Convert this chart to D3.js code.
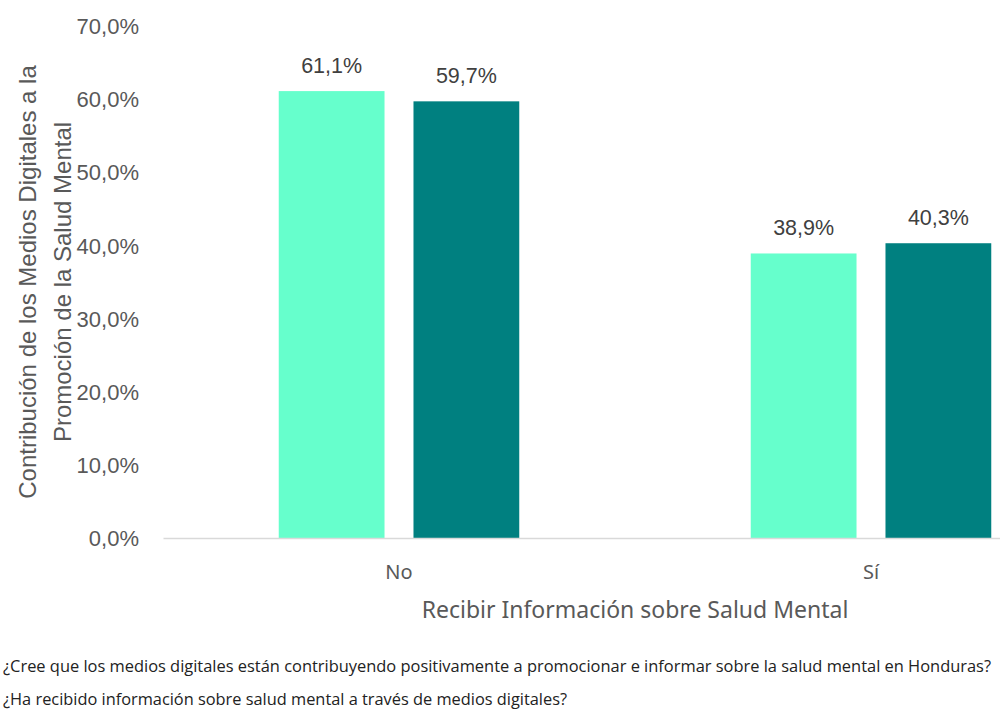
<!DOCTYPE html>
<html>
<head>
<meta charset="utf-8">
<script src="https://cdn.jsdelivr.net/npm/d3@7"></script>
<style>
  html, body { margin: 0; padding: 0; background: #fff; }
  svg { display: block; }
</style>
</head>
<body>
<svg id="chart" width="1000" height="713"></svg>
<script>
// Categories on the x axis and the two answer series
const categories = ["No", "Sí"];
const seriesNames = ["Contribuyen", "Ha recibido"];
const seriesLight = [61.1, 38.9];
const seriesDark = [59.7, 40.3];
const yTicks = [0, 10, 20, 30, 40, 50, 60, 70];
const colors = ["#66FFCC", "#008080"];

const yTitleLines = ["Contribución de los Medios Digitales a la", "Promoción de la Salud Mental"];
const xTitle = "Recibir Información sobre Salud Mental";
const notes = [
  "¿Cree que los medios digitales están contribuyendo positivamente a promocionar e informar sobre la salud mental en Honduras?",
  "¿Ha recibido información sobre salud mental a través de medios digitales?"
];

const svg = d3.select("#chart");
const margin = { left: 163, top: 26, bottom: 538, right: 1107 };

const fmt = v => d3.format(".1f")(v).replace(".", ",") + "%";

const x0 = d3.scaleBand().domain(categories).range([margin.left, margin.right]).paddingInner(0).paddingOuter(0);
const x1 = d3.scaleBand().domain(seriesNames).range([0, x0.bandwidth()]).paddingInner(0.215).paddingOuter(0.859);
const y = d3.scaleLinear().domain([0, 70]).range([margin.bottom, margin.top]);

const rows = categories.map((c, i) => ({ cat: c, values: [seriesLight[i], seriesDark[i]] }));

// bars
const groups = svg.selectAll("g.grp").data(rows).join("g")
  .attr("class", "grp")
  .attr("transform", d => `translate(${x0(d.cat)},0)`);

groups.selectAll("rect").data(d => d.values.map((v, j) => ({ v, j }))).join("rect")
  .attr("x", d => x1(seriesNames[d.j]))
  .attr("width", x1.bandwidth())
  .attr("y", d => y(d.v))
  .attr("height", d => y(0) - y(d.v))
  .attr("fill", d => colors[d.j]);

groups.selectAll("text.lbl").data(d => d.values.map((v, j) => ({ v, j }))).join("text")
  .attr("class", "lbl")
  .attr("x", d => x1(seriesNames[d.j]) + x1.bandwidth() / 2)
  .attr("y", d => y(d.v) - 18)
  .attr("text-anchor", "middle")
  .attr("font-family", "Liberation Sans, Arial, sans-serif")
  .attr("font-size", 21.5)
  .attr("fill", "#404040")
  .text(d => fmt(d.v));

// y axis labels
const yAxis = d3.axisLeft(y).tickValues(yTicks).tickSize(0).tickPadding(0).tickFormat(fmt);
const yg = svg.append("g").attr("transform", "translate(139,0)").call(yAxis);
yg.select(".domain").remove();
yg.selectAll("text")
  .attr("font-family", "Liberation Sans, Arial, sans-serif")
  .attr("font-size", 22)
  .attr("fill", "#595959")
  .attr("dy", "0.35em");

// x axis baseline and category labels
const xAxis = d3.axisBottom(x0).tickSize(0).tickPadding(24);
const xg = svg.append("g").attr("transform", `translate(0,${y(0)})`).call(xAxis);
xg.select(".domain").attr("stroke", "#d9d9d9").attr("stroke-width", 1.5);
xg.selectAll("text")
  .attr("font-family", "Noto Sans, Open Sans, sans-serif")
  .attr("font-size", 20)
  .attr("fill", "#595959")
  .attr("dy", "0.35em")
  .attr("y", 34);

// axis titles
const yMid = (margin.top + margin.bottom) / 2;
svg.append("g").selectAll("text").data(yTitleLines).join("text")
  .attr("transform", (d, i) => `translate(${28 + i * 35},${yMid}) rotate(-90)`)
  .attr("text-anchor", "middle")
  .attr("dy", "0.35em")
  .attr("font-family", "Liberation Sans, Arial, sans-serif")
  .attr("font-size", 24)
  .attr("fill", "#595959")
  .text(d => d);

svg.append("text")
  .attr("x", 635).attr("y", 610)
  .attr("text-anchor", "middle")
  .attr("dy", "0.35em")
  .attr("font-family", "Noto Sans, Open Sans, sans-serif")
  .attr("font-size", 23)
  .attr("fill", "#595959")
  .text(xTitle);

// question notes below the chart
svg.append("g").selectAll("text").data(notes).join("text")
  .attr("x", 3)
  .attr("y", (d, i) => 672 + i * 33)
  .attr("font-family", "Open Sans, sans-serif")
  .attr("font-size", 16)
  .attr("fill", "#222")
  .attr("textLength", (d, i) => i === 0 ? 988 : 564)
  .attr("lengthAdjust", "spacingAndGlyphs")
  .text(d => d);
</script>
</body>
</html>
